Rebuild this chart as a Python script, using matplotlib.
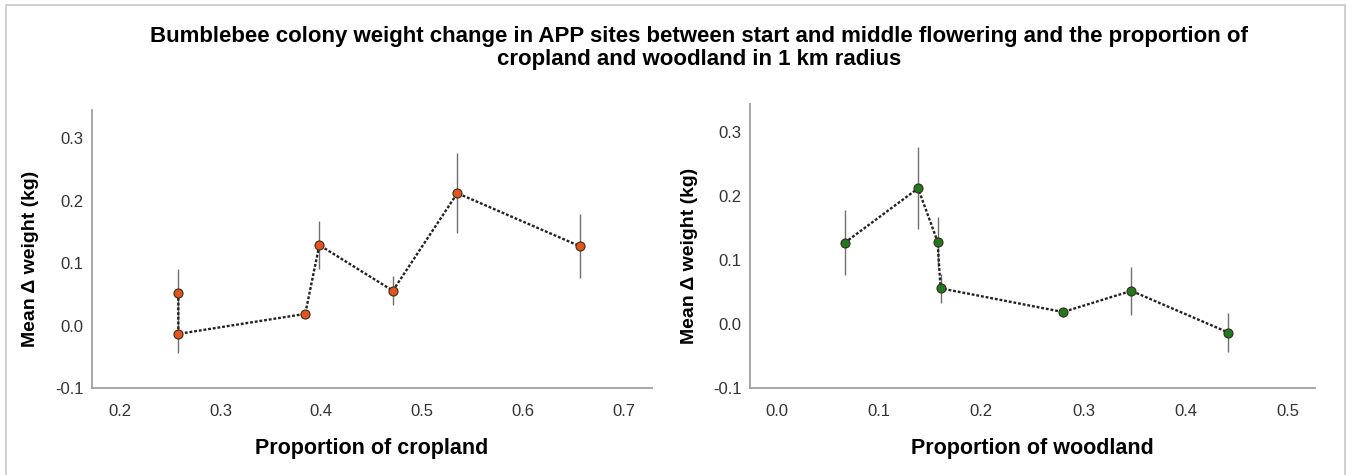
import numpy as np
import matplotlib.pyplot as plt
from matplotlib.patches import Rectangle

plt.rcParams['font.family'] = ['Liberation Sans', 'DejaVu Sans']

# mean weight change (kg) and error half-width per site
mean_dw = [0.052, -0.013, 0.019, 0.129, 0.056, 0.212, 0.127]
err_dw = [0.038, 0.031, 0.007, 0.039, 0.023, 0.064, 0.051]

# landscape proportions for the same sites
cropland = [0.258, 0.258, 0.384, 0.398, 0.471, 0.535, 0.657]
woodland = [0.347, 0.442, 0.280, 0.157, 0.160, 0.138, 0.066]

crop_ticks = [0.2, 0.3, 0.4, 0.5, 0.6, 0.7]
wood_ticks = [0.0, 0.1, 0.2, 0.3, 0.4, 0.5]
y_ticks = [-0.1, 0.0, 0.1, 0.2, 0.3]

title = ('Bumblebee colony weight change in APP sites between start and middle flowering and the proportion of\n'
         'cropland and woodland in 1 km radius')

W, H = 1347, 475
fig = plt.figure(figsize=(W / 100, H / 100), dpi=100)

# thin frame around the whole picture
fig.patches.append(Rectangle((6 / W, -0.01), (1345 - 6) / W, (H - 5) / H + 0.01,
                             transform=fig.transFigure, fill=False,
                             edgecolor='#c8c8c8', lw=1.2))

fig.text(699 / W, 1 - 48 / H, title, ha='center', va='center',
         fontsize=16, fontweight='bold', linespacing=1.1)


def panel(rect, x, xlim, xticks, xlabel, color, ylim, ylab_xy):
    ax = fig.add_axes(rect)
    order = np.argsort(x, kind='stable')
    xs = np.array(x)[order]
    ys = np.array(mean_dw)[order]
    es = np.array(err_dw)[order]
    ax.vlines(xs, ys - es, ys + es, color='#707070', lw=1.0, zorder=1)
    ax.plot(xs, ys, color='#222222', lw=1.7, dashes=(1.2, 0.8), zorder=2)
    ax.plot(xs, ys, ls='none', marker='o', ms=6.5, mfc=color,
            mec='#3a2a1a', mew=0.8, zorder=3)
    ax.set_xlim(*xlim)
    ax.set_ylim(*ylim)
    ax.set_xticks(xticks)
    ax.set_xticklabels([f'{t:.1f}' for t in xticks])
    ax.set_yticks(y_ticks)
    ax.set_yticklabels([f'{t:.1f}' for t in y_ticks])
    ax.tick_params(length=0, labelsize=12, labelcolor='#333333')
    ax.tick_params(axis='x', pad=11)
    ax.tick_params(axis='y', pad=6)
    for s in ['top', 'right']:
        ax.spines[s].set_visible(False)
    for s in ['left', 'bottom']:
        ax.spines[s].set_color('#a0a0a0')
        ax.spines[s].set_linewidth(1.3)
    ax.set_xlabel(xlabel, fontsize=15.5, fontweight='bold', labelpad=14)
    ax.set_ylabel('Mean Δ weight (kg)', fontsize=14, fontweight='bold')
    ax.yaxis.set_label_coords(*ylab_xy)
    return ax


panel([91.7 / W, 1 - 388.3 / H, 560 / W, 278.3 / H], cropland,
      (0.172, 0.728), crop_ticks, 'Proportion of cropland', '#e0561c',
      (-0.1, 0.345), (-0.094, 0.465))
panel([750 / W, 1 - 388.3 / H, 565 / W, 284.3 / H], woodland,
      (-0.0268, 0.527), wood_ticks, 'Proportion of woodland', '#1f7a1f',
      (-0.1, 0.3435), (-0.092, 0.465))

fig.savefig('out.png', dpi=100)
